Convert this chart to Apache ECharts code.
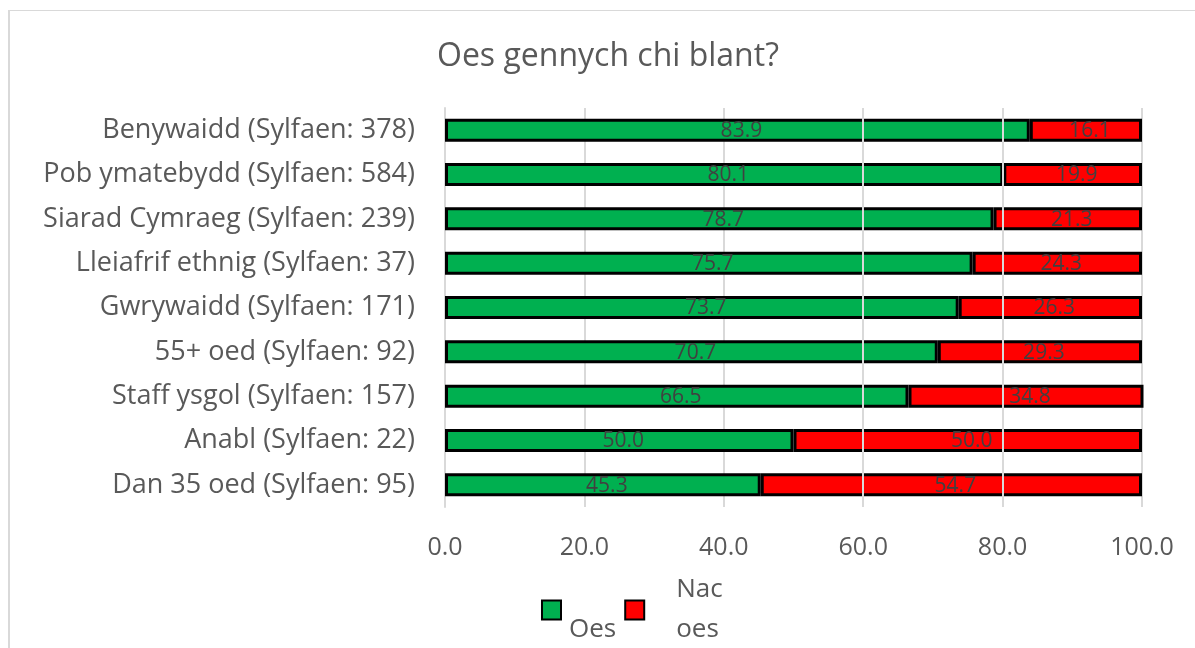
<!DOCTYPE html>
<html>
<head>
<meta charset="utf-8">
<script src="https://cdn.jsdelivr.net/npm/echarts@6/dist/echarts.min.js"></script>
<style>
html,body{margin:0;padding:0;background:#fff;}
#main{width:1195px;height:648px;}
#frame{position:absolute;left:8px;top:10px;width:1200px;height:700px;border-top:1px solid #d9d9d9;border-left:2px solid #d9d9d9;pointer-events:none;}
</style>
</head>
<body>
<div id="main"></div>
<div id="frame"></div>
<script>
// data
var categories = ['Benywaidd (Sylfaen: 378)','Pob ymatebydd (Sylfaen: 584)','Siarad Cymraeg (Sylfaen: 239)','Lleiafrif ethnig (Sylfaen: 37)','Gwrywaidd (Sylfaen: 171)','55+ oed (Sylfaen: 92)','Staff ysgol (Sylfaen: 157)','Anabl (Sylfaen: 22)','Dan 35 oed (Sylfaen: 95)'];
var oes = [83.9, 80.1, 78.7, 75.7, 73.7, 70.7, 66.5, 50.0, 45.3];
var nacOes = [16.1, 19.9, 21.3, 24.3, 26.3, 29.3, 34.8, 50.0, 54.7];
var seriesNames = ['Oes', 'Nac oes'];
var xTicks = [0, 20, 40, 60, 80, 100];
// gridlines that show over the bars in the original
var overLines = [60, 80];

var font = "'Open Sans', 'Noto Sans', sans-serif";
var myChart = echarts.init(document.getElementById('main'));

var barLabel = {
    show: true,
    position: 'inside',
    color: '#404040',
    fontSize: 21,
    fontFamily: font,
    offset: [4, 1],
    formatter: function (p) { return p.value.toFixed(1); }
};

var option = {
    animation: false,
    title: {
        text: 'Oes gennych chi blant?',
        left: 432,
        top: 36,
        textStyle: { color: '#595959', fontSize: 32, fontWeight: 'normal', fontFamily: font }
    },
    legend: {
        left: 536,
        top: 565,
        icon: 'rect',
        itemWidth: 19,
        itemHeight: 19,
        itemGap: 8,
        data: [
            { name: seriesNames[0], textStyle: { padding: [0, 0, 0, 3] } },
            { name: seriesNames[1], textStyle: { padding: [0, 0, 0, 27] } }
        ],
        formatter: function (name) {
            return name == 'Nac oes' ? 'Nac\noes' : '\nOes';
        },
        textStyle: { color: '#595959', fontSize: 26, lineHeight: 40, fontFamily: font }
    },
    grid: {
        left: 445,
        right: 53,
        top: 108,
        height: 399,
        containLabel: false
    },
    xAxis: {
        type: 'value',
        min: xTicks[0],
        max: xTicks[xTicks.length - 1],
        interval: xTicks[1] - xTicks[0],
        axisLine: { show: false },
        axisTick: { show: false },
        splitLine: { show: true, lineStyle: { color: '#d9d9d9', width: 2 } },
        axisLabel: {
            color: '#595959',
            fontSize: 25,
            fontFamily: font,
            margin: 28,
            formatter: function (v) { return v.toFixed(1); }
        }
    },
    yAxis: {
        type: 'category',
        inverse: true,
        data: categories,
        axisLine: { show: true, lineStyle: { color: '#d9d9d9', width: 2 } },
        axisTick: { show: false },
        axisLabel: { color: '#595959', fontSize: 27, fontFamily: font, margin: 30 }
    },
    series: [
        {
            name: seriesNames[0],
            type: 'bar',
            stack: 'total',
            barWidth: 23,
            itemStyle: { color: '#00b050', borderColor: '#000', borderWidth: 3 },
            label: barLabel,
            data: oes
        },
        {
            name: seriesNames[1],
            type: 'bar',
            stack: 'total',
            barWidth: 23,
            itemStyle: { color: '#ff0000', borderColor: '#000', borderWidth: 3 },
            label: barLabel,
            data: nacOes,
            markLine: {
                silent: true,
                symbol: 'none',
                label: { show: false },
                lineStyle: { color: '#d9d9d9', width: 2, type: 'solid' },
                data: overLines.map(function (v) { return { xAxis: v }; })
            }
        }
    ]
};
myChart.setOption(option);
</script>
</body>
</html>
